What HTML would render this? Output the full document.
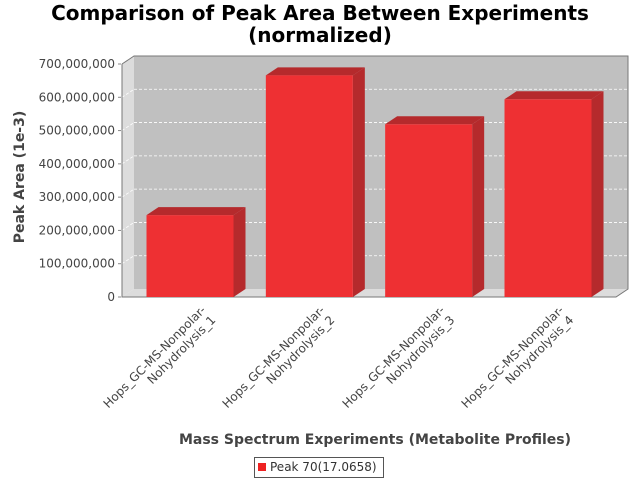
<!DOCTYPE html>
<html><head><meta charset="utf-8"><style>
body{margin:0;background:#fff;font-family:"Liberation Sans","DejaVu Sans",sans-serif}
#wrap{position:relative;width:640px;height:480px;overflow:hidden}
.t{position:absolute;white-space:nowrap}
.cl{position:absolute;text-align:right;font-size:12px;line-height:14px;color:#444;transform:rotate(-45deg);transform-origin:100% 0;white-space:nowrap;font-family:"DejaVu Sans",sans-serif}
</style></head><body>
<div id="wrap">
<div class="t" style="left:0;width:640px;top:2px;text-align:center;font-weight:bold;font-size:20px;line-height:22px;font-family:'DejaVu Sans',sans-serif">Comparison of Peak Area Between Experiments<br>(normalized)</div>
<svg id="svg" width="640" height="480" style="position:absolute;left:0;top:0"></svg>
<div class="t" style="left:20px;top:177px;transform:translate(-50%,-50%) rotate(-90deg);font-weight:bold;font-size:14px;color:#444;font-family:'DejaVu Sans',sans-serif">Peak Area (1e-3)</div>
<div class="t" style="left:375px;top:432px;transform:translateX(-50%);font-weight:bold;font-size:14px;color:#444;font-family:'DejaVu Sans',sans-serif">Mass Spectrum Experiments (Metabolite Profiles)</div>
<div id="labels"></div>
<div class="t" style="left:254px;top:457px;width:128px;height:19px;border:1px solid #555;font-size:12px;line-height:19px;color:#333;font-family:'DejaVu Sans',sans-serif">
<span style="display:inline-block;width:8px;height:8px;background:#ee2222;margin:0 4px 0 3px"></span><span>Peak 70(17.0658)</span></div>
</div>
<script>
const categories=["Hops_GC-MS-Nonpolar-\nNohydrolysis_1","Hops_GC-MS-Nonpolar-\nNohydrolysis_2","Hops_GC-MS-Nonpolar-\nNohydrolysis_3","Hops_GC-MS-Nonpolar-\nNohydrolysis_4"];
const values=[246e6,666e6,519e6,594e6];
const yTicks=[0,1e8,2e8,3e8,4e8,5e8,6e8,7e8];
const yMax=7e8;
const NS="http://www.w3.org/2000/svg";
const svg=document.getElementById('svg');
const L=122,R=616,B=297,T=64,DX=12,DY=8;
const y=v=>B-(v/yMax)*(B-T);
const bw=87, margin=24.5;
const step=(R-L-2*margin-bw)/(categories.length-1);
const cx=i=>L+margin+bw/2+step*i;
function mk(tag,at,name){const e=document.createElementNS(NS,tag);for(const k in at)e.setAttribute(k,at[k]);


svg.appendChild(e);return e;}
mk('rect',{x:L+DX,y:T-DY,width:R-L,height:B-T,fill:'#c0c0c0'},'plot-back-wall');
mk('polygon',{points:`${L},${T} ${L+DX},${T-DY} ${L+DX},${B-DY} ${L},${B}`,fill:'#dcdcdc'},'plot-left-wall');
mk('polygon',{points:`${L},${B} ${L+DX},${B-DY} ${R+DX},${B-DY} ${R},${B}`,fill:'#dcdcdc'},'plot-floor');
yTicks.forEach(v=>{
 if(v>0){mk('line',{x1:L+DX,x2:R+DX,y1:y(v)-DY,y2:y(v)-DY,stroke:'#fff','stroke-dasharray':'3,2','stroke-width':0.8},'gridline');
 mk('line',{x1:L,x2:L+DX,y1:y(v),y2:y(v)-DY,stroke:'#fff','stroke-dasharray':'3,2','stroke-width':0.8},'gridline-wall');}
 mk('line',{x1:L-4,x2:L-1,y1:y(v),y2:y(v),stroke:'#888'},'y-tick');
 const t=mk('text',{x:L-7,y:y(v)+4,'text-anchor':'end','font-size':12,fill:'#444','font-family':'DejaVu Sans, sans-serif'},'y-tick-label');
 t.textContent=v.toLocaleString('en-US');
});
mk('polyline',{points:`${L},${T} ${L+DX},${T-DY} ${R+DX},${T-DY} ${R+DX},${B-DY} ${R},${B} ${L},${B} ${L},${T}`,fill:'none',stroke:'#777'},'plot-outline');
values.forEach((v,i)=>{
 const x0=cx(i)-bw/2,x1=x0+bw,yt=y(v);
 mk('polygon',{points:`${x1},${yt} ${x1+DX},${yt-DY} ${x1+DX},${B-DY} ${x1},${B}`,fill:'#b52a2c'},'bar-side');
 mk('polygon',{points:`${x0},${yt} ${x0+DX},${yt-DY} ${x1+DX},${yt-DY} ${x1},${yt}`,fill:'#b52a2c'},'bar-top');
 mk('rect',{x:x0,y:yt,width:bw,height:B-yt,fill:'#ee3033'},'bar');
});
const lab=document.getElementById('labels');
categories.forEach((c,i)=>{
 const d=document.createElement('div');
 d.className='cl';
 
 
 d.innerHTML=c.replace('\n','<br>');
 lab.appendChild(d);
 const w=d.offsetWidth;
 d.style.left=(cx(i)+9-w)+'px';d.style.top='303px';
});
</script>
</body></html>
